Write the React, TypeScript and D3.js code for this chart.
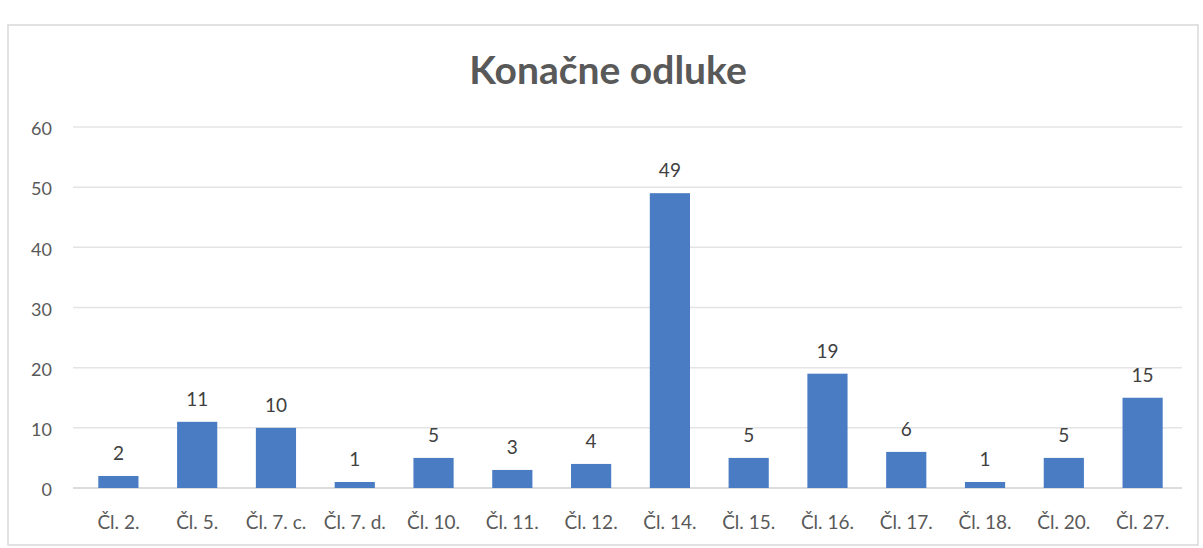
import * as d3 from "d3";

const categories = [
  "Čl. 2.", "Čl. 5.", "Čl. 7. c.", "Čl. 7. d.", "Čl. 10.", "Čl. 11.", "Čl. 12.",
  "Čl. 14.", "Čl. 15.", "Čl. 16.", "Čl. 17.", "Čl. 18.", "Čl. 20.", "Čl. 27.",
];
const values = [2, 11, 10, 1, 5, 3, 4, 49, 5, 19, 6, 1, 5, 15];
const yTicks = [0, 10, 20, 30, 40, 50, 60];
const title = "Konačne odluke";

const width = 1203;
const height = 548;
const marginLeft = 79;
const marginRight = 21;
const plotTop = 127;
const plotBottom = 488;
const font = "Lato, 'Open Sans', sans-serif";

export default function App() {
  const x = d3
    .scaleBand<string>()
    .domain(categories)
    .range([marginLeft, width - marginRight])
    .paddingInner(0.49)
    .paddingOuter(0.245);
  const y = d3.scaleLinear([0, 60], [plotBottom, plotTop]);

  return (
    <svg
      width={width}
      height={height}
      style={{ position: "absolute", left: 0, top: 0, background: "#fff" }}
    >
      <rect x={8} y={25} width={1190} height={520} fill="#fff" stroke="#d9d9d9" strokeWidth={1.5} />
      <text
        x={608}
        y={84}
        textAnchor="middle"
        fontFamily={font}
        fontWeight="bold"
        fontSize={39}
        fill="#595959"
      >
        {title}
      </text>
      <g>
        {yTicks.map((t) => (
          <g key={t}>
            <line
              x1={x.range()[0] - 6}
              x2={x.range()[1]}
              y1={y(t)}
              y2={y(t)}
              stroke={t === 0 ? "#d0d0d0" : "#e4e4e4"}
              strokeWidth={1.5}
            />
            <text
              x={52}
              y={y(t) + 2}
              dy="0.35em"
              textAnchor="end"
              fontFamily={font}
              fontSize={18}
              fill="#595959"
            >
              {t}
            </text>
          </g>
        ))}
      </g>
      <g>
        {categories.map((c, i) => (
          <g key={c}>
            <rect
              x={x(c)}
              y={y(values[i])}
              width={x.bandwidth()}
              height={y(0) - y(values[i])}
              fill="#4a7cc4"
            />
            <text
              x={(x(c) ?? 0) + x.bandwidth() / 2}
              y={y(values[i]) - 16}
              textAnchor="middle"
              fontFamily={font}
              fontSize={19}
              fill="#404040"
            >
              {values[i]}
            </text>
            <text
              x={(x(c) ?? 0) + x.bandwidth() / 2}
              y={y(0) + 41}
              textAnchor="middle"
              fontFamily={font}
              fontSize={19}
              fill="#595959"
            >
              {c}
            </text>
          </g>
        ))}
      </g>
    </svg>
  );
}
